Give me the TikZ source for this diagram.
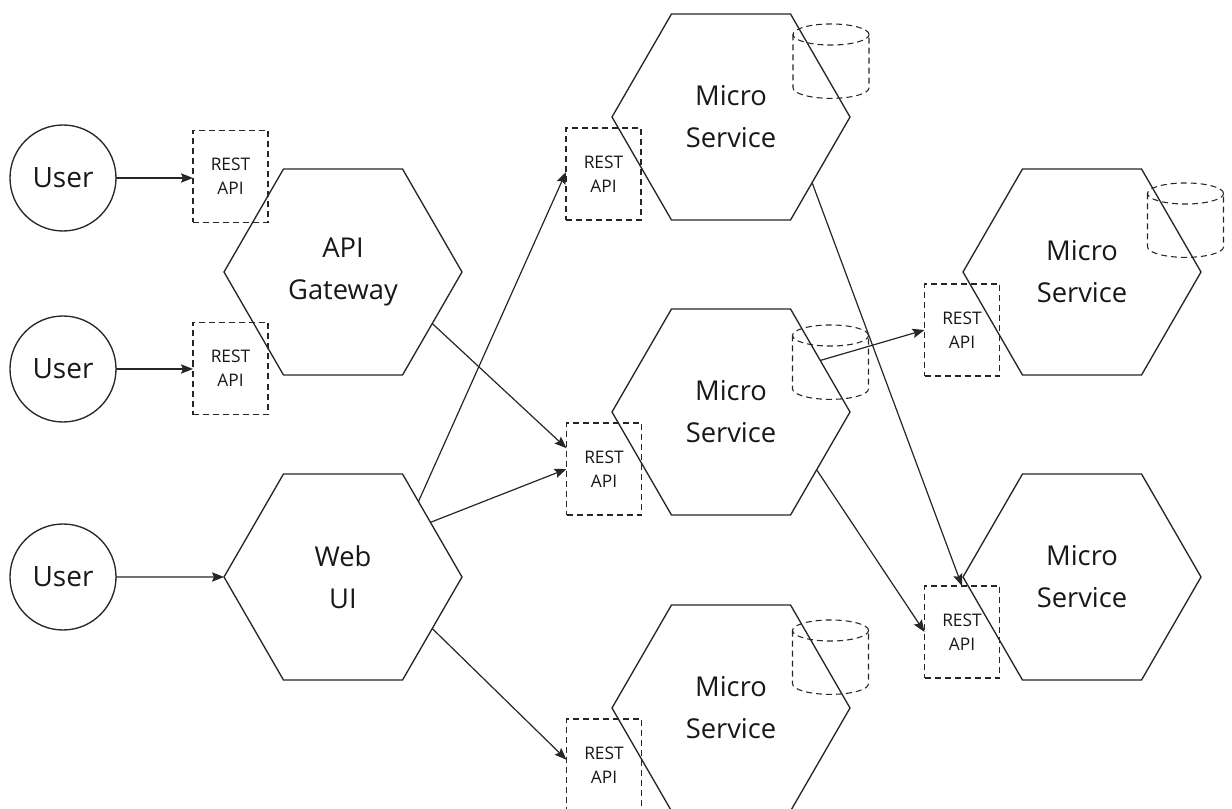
\documentclass[tikz,border=0pt]{standalone}
\usepackage{fontspec}
\setmainfont{Open Sans}
\usetikzlibrary{shapes.geometric,arrows.meta}

\definecolor{ink}{HTML}{262626}
\definecolor{txt}{HTML}{181818}

\tikzset{
  every node/.style={text=txt},
  hexa/.style={draw=ink, line width=1pt, regular polygon, regular polygon sides=6,
    minimum size=178.5pt, inner sep=0pt, outer sep=0pt, align=center,
    font=\fontsize{20.5}{31.5}\selectfont},
  usr/.style={draw=ink, line width=1pt, circle, minimum size=79.5pt, inner sep=0pt,
    outer sep=0pt, font=\fontsize{21}{30}\selectfont},
  restbox/.style={draw=ink, line width=0.8pt, dash pattern=on 4.5pt off 3pt,
    rectangle, minimum width=56.25pt, minimum height=69pt, inner sep=0pt,
    outer sep=0pt, align=center, font=\fontsize{13}{18}\selectfont},
  dbline/.style={draw=ink, line width=0.8pt, dash pattern=on 4.5pt off 3pt},
  db/.pic={
    \draw[dbline] (-28.5pt,0pt) -- (-28.5pt,-40pt)
      arc[start angle=180, end angle=360, x radius=28.5pt, y radius=7.9pt]
      -- (28.5pt,0pt);
    \draw[dbline] (0pt,0pt) ellipse[x radius=28.5pt, y radius=7.9pt];
  },
  link/.style={draw=ink, line width=0.9pt, -{Stealth[length=9pt, width=7pt, inset=1.5pt]}}
}

\begin{document}
\begin{tikzpicture}[x=0.75pt, y=-0.75pt]
  \useasboundingbox (0,0) rectangle (1232,809);

  % users
  \node[usr] (u1) at (63,178) {User};
  \node[usr] (u2) at (63,369) {User};
  \node[usr] (u3) at (63,577) {User};

  % gateway and web front end
  \node[hexa] (gw)  at (343,272) {API\\Gateway};
  \node[hexa] (web) at (343,577) {Web\\UI};

  % services
  \node[hexa] (m1) at (731,117)  {Micro\\Service};
  \node[hexa] (m2) at (731,412)  {Micro\\Service};
  \node[hexa] (m3) at (731,708)  {Micro\\Service};
  \node[hexa] (m4) at (1082,272) {Micro\\Service};
  \node[hexa] (m5) at (1082,577) {Micro\\Service};

  % REST endpoints
  \node[restbox] (r1)  at (230.5,176.5) {REST\\API};
  \node[restbox] (r2)  at (230.5,368.5) {REST\\API};
  \node[restbox] (rm1) at (603.5,174)   {REST\\API};
  \node[restbox] (rm2) at (604,469)     {REST\\API};
  \node[restbox] (rm3) at (604,765)     {REST\\API};
  \node[restbox] (rm4) at (962,330)     {REST\\API};
  \node[restbox] (rm5) at (962,632)     {REST\\API};

  % databases
  \pic at (831,34.5)    {db};
  \pic at (830.5,335.5) {db};
  \pic at (830.5,630.5) {db};
  \pic at (1185.5,193.5) {db};

  % calls
  \draw[link] (u1.east) -- (u1.east -| r1.west);
  \draw[link] (u2.east) -- (u2.east -| r2.west);
  \draw[link] (u3.east) -- (web.180);
  \draw[link] (gw.-30) -- (rm2.151);
  \draw[link] (web.45) -- (rm1.177);
  \draw[link] (web.32) -- (rm2.180);
  \draw[link] (web.-30) -- (rm3.172);
  \draw[link] (m1.-39.3) -- (rm5.north);
  \draw[link] (m2.30.3) -- (rm4.west);
  \draw[link] (m2.-34.9) -- (rm5.west);
\end{tikzpicture}
\end{document}
